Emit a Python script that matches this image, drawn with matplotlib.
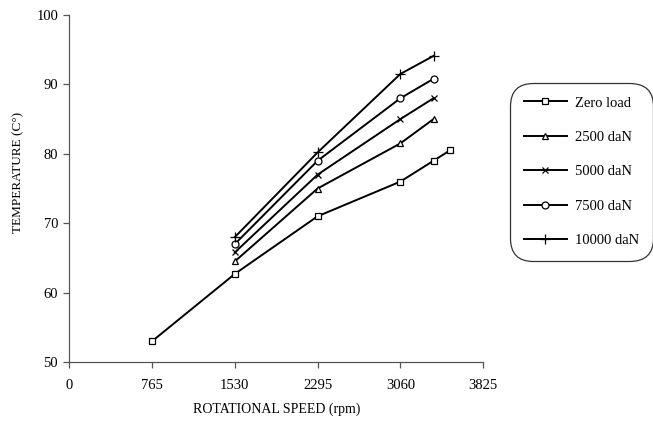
import matplotlib.pyplot as plt

plt.rcParams['font.family'] = ['Liberation Serif', 'DejaVu Serif']

speed_zero = [765, 1530, 2295, 3060, 3366, 3519]
temp_zero = [53.0, 62.7, 71.0, 76.0, 79.0, 80.5]

speed = [1530, 2295, 3060, 3366]
temp_2500 = [64.5, 75.0, 81.5, 85.0]
temp_5000 = [65.8, 77.0, 85.0, 88.0]
temp_7500 = [67.0, 79.0, 88.0, 90.8]
temp_10000 = [68.0, 80.2, 91.5, 94.1]

x_ticks = [0, 765, 1530, 2295, 3060, 3825]
y_ticks = [50, 60, 70, 80, 90, 100]

fig = plt.figure(figsize=(6.53, 4.26), dpi=100)
ax = fig.add_axes([0.106, 0.150, 0.634, 0.815])

style = dict(color='black', lw=1.4, markerfacecolor='white', markeredgecolor='black', markeredgewidth=0.9)
ax.plot(speed_zero, temp_zero, marker='s', ms=5, label='Zero load', **style)
ax.plot(speed, temp_2500, marker='^', ms=5, label='2500 daN', **style)
ax.plot(speed, temp_5000, marker='x', ms=5, label='5000 daN', **style)
ax.plot(speed, temp_7500, marker='o', ms=5, label='7500 daN', **style)
ax.plot(speed, temp_10000, marker='+', ms=7, label='10000 daN', **style)

ax.set_xlim(0, 3825)
ax.set_ylim(50, 100)
ax.set_xticks(x_ticks)
ax.set_yticks(y_ticks)
ax.spines['top'].set_visible(False)
ax.spines['right'].set_visible(False)
for s in ('left', 'bottom'):
    ax.spines[s].set_color('#555555')
    ax.spines[s].set_linewidth(0.9)
ax.tick_params(direction='out', length=4, width=0.9, color='#555555', labelsize=10.5)
ax.tick_params(axis='x', pad=8)
ax.tick_params(axis='y', pad=4)
ax.set_xlabel('ROTATIONAL SPEED (rpm)', fontsize=10, labelpad=8)
ax.set_ylabel('TEMPERATURE (C°)', fontsize=9.5)
ax.yaxis.set_label_coords(-0.108, 0.545)

leg = ax.legend(loc='center', bbox_to_anchor=(0.890, 0.597), bbox_transform=fig.transFigure,
                fontsize=10.5, labelspacing=1.45, handlelength=3.0, handletextpad=0.5,
                borderpad=0.75, frameon=True, fancybox=True)
frame = leg.get_frame()
frame.set_edgecolor('black')
frame.set_linewidth(0.9)
frame.set_boxstyle('round,pad=0.2,rounding_size=1.6')

fig.savefig('out.png', dpi=100)
